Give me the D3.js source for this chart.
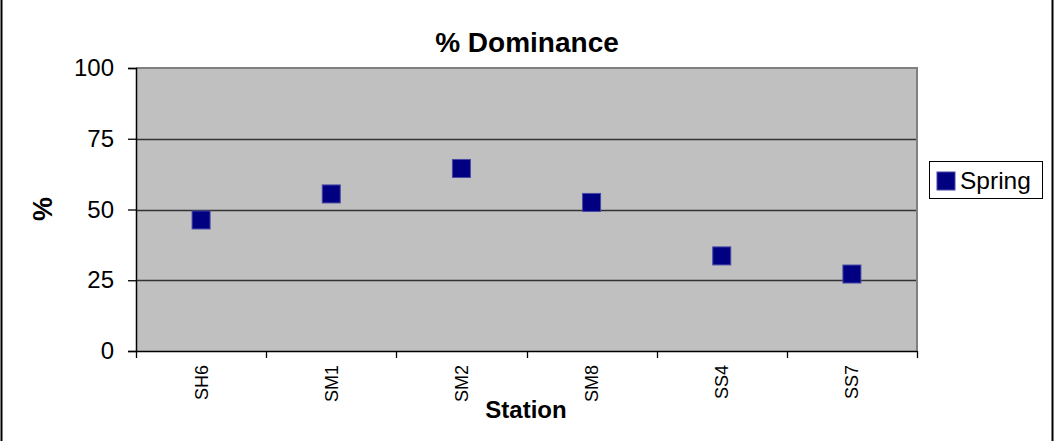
<!DOCTYPE html>
<html>
<head>
<meta charset="utf-8">
<script src="https://cdn.jsdelivr.net/npm/d3@7"></script>
<style>
  html, body { margin: 0; padding: 0; background: #fff; }
  svg { display: block; font-family: Arial, "Liberation Sans", sans-serif; }
</style>
</head>
<body>
<svg id="chart" width="1057" height="441"></svg>
<script>
// Station dominance, spring sampling
const stations = ["SH6", "SM1", "SM2", "SM8", "SS4", "SS7"];
const spring = [46.3, 55.5, 64.5, 52.5, 33.6, 27.2];
const yTicks = [0, 25, 50, 75, 100];
const seriesName = "Spring";

const svg = d3.select("#chart");
const plot = { left: 136, right: 917, top: 68, bottom: 351 };

const x = d3.scaleBand().domain(stations).range([plot.left, plot.right]).padding(0);
const y = d3.scaleLinear().domain([0, 100]).range([plot.bottom, plot.top]);

// outer frame sides
svg.append("line").attr("x1", 1.5).attr("x2", 1.5).attr("y1", 0).attr("y2", 441)
  .attr("stroke", "#000").attr("stroke-width", 2);
svg.append("line").attr("x1", 1052.5).attr("x2", 1052.5).attr("y1", 0).attr("y2", 441)
  .attr("stroke", "#000").attr("stroke-width", 2);

// plot area background
svg.append("rect")
  .attr("x", plot.left).attr("y", plot.top)
  .attr("width", plot.right - plot.left).attr("height", plot.bottom - plot.top)
  .attr("fill", "#c0c0c0");

// horizontal gridlines
svg.append("g").selectAll("line")
  .data(yTicks.filter(d => d > 0 && d < 100))
  .join("line")
  .attr("x1", plot.left).attr("x2", plot.right)
  .attr("y1", d => Math.round(y(d)) + 0.5).attr("y2", d => Math.round(y(d)) + 0.5)
  .attr("stroke", "#333").attr("stroke-width", 1.3);

// top and right plot borders
svg.append("path")
  .attr("d", `M${plot.left},${plot.top} H${plot.right} V${plot.bottom}`)
  .attr("fill", "none").attr("stroke", "#808080").attr("stroke-width", 2);

// y axis
const yAxis = d3.axisLeft(y).tickValues(yTicks).tickSize(8).tickPadding(14);
const gy = svg.append("g").attr("transform", `translate(${plot.left},0)`).call(yAxis);
gy.select(".domain").attr("stroke", "#000").attr("stroke-width", 1.5);
gy.selectAll(".tick line").attr("stroke", "#000").attr("stroke-width", 1.3);
gy.selectAll(".tick text").attr("font-size", 24).attr("fill", "#000")
  .attr("font-family", "Arial, 'Liberation Sans', sans-serif");

// x axis line with ticks on category boundaries
svg.append("line")
  .attr("x1", plot.left).attr("x2", plot.right)
  .attr("y1", plot.bottom + 0.5).attr("y2", plot.bottom + 0.5)
  .attr("stroke", "#000").attr("stroke-width", 1.5);
const bounds = stations.map(s => x(s)).concat([x(stations[stations.length - 1]) + x.bandwidth()]);
svg.append("g").selectAll("line")
  .data(bounds)
  .join("line")
  .attr("x1", d => Math.round(d) + 0.5).attr("x2", d => Math.round(d) + 0.5)
  .attr("y1", plot.bottom).attr("y2", plot.bottom + 7)
  .attr("stroke", "#000").attr("stroke-width", 1.3);

// rotated category labels
svg.append("g").selectAll("text")
  .data(stations)
  .join("text")
  .attr("transform", d => `translate(${x(d) + x.bandwidth() / 2 + 6.5},365) rotate(-90)`)
  .attr("text-anchor", "end")
  .attr("font-size", 18)
  .attr("fill", "#000")
  .text(d => d);

// markers
const ms = 18;
svg.append("g").selectAll("rect")
  .data(stations.map((s, i) => ({ s, v: spring[i] })))
  .join("rect")
  .attr("x", d => x(d.s) + x.bandwidth() / 2 - ms / 2)
  .attr("y", d => y(d.v) - ms / 2)
  .attr("width", ms).attr("height", ms)
  .attr("fill", "#000080")
  .attr("stroke", "#4848a8").attr("stroke-width", 1);

// title and axis titles
svg.append("text").attr("x", 527).attr("y", 52).attr("text-anchor", "middle")
  .attr("font-size", 28).attr("font-weight", "bold").text("% Dominance");
svg.append("text").attr("x", 526).attr("y", 418).attr("text-anchor", "middle")
  .attr("font-size", 24).attr("font-weight", "bold").text("Station");
svg.append("text").attr("transform", "translate(52,209) rotate(-90)")
  .attr("text-anchor", "middle")
  .attr("font-size", 27).attr("font-weight", "bold").text("%");

// legend
const lg = svg.append("g");
lg.append("rect").attr("x", 929.5).attr("y", 161.5).attr("width", 113).attr("height", 37)
  .attr("fill", "#fff").attr("stroke", "#000").attr("stroke-width", 1);
lg.append("rect").attr("x", 937).attr("y", 172).attr("width", ms).attr("height", ms)
  .attr("fill", "#000080").attr("stroke", "#4848a8").attr("stroke-width", 1);
lg.append("text").attr("x", 960).attr("y", 189).attr("font-size", 24.5)
  .attr("fill", "#000").text(seriesName);
</script>
</body>
</html>
